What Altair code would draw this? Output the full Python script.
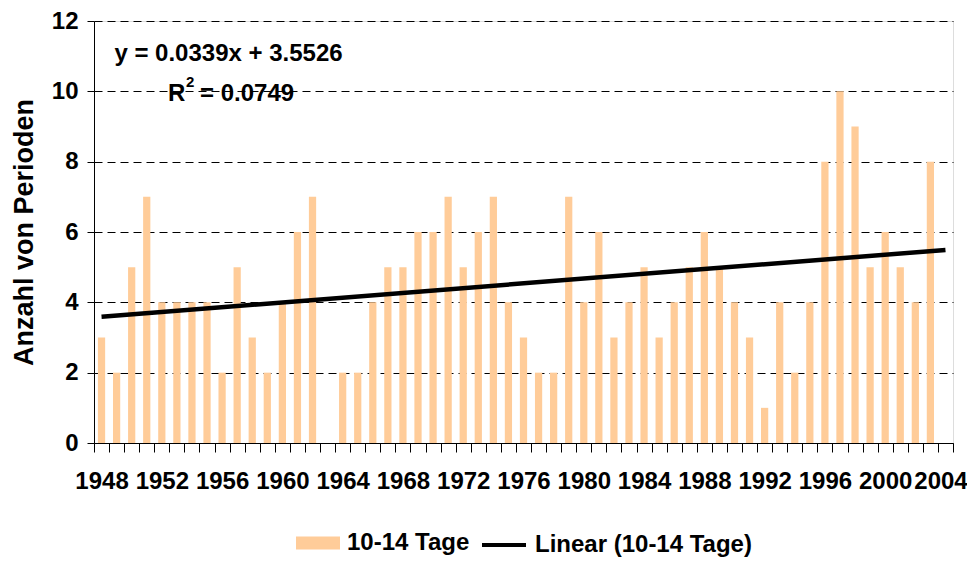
import altair as alt
import pandas as pd

# ---- data ----
years = list(range(1948, 2004))
counts = [3, 2, 5, 7, 4, 4, 4, 4, 2, 5, 3, 2, 4, 6, 7,
          0,
          2, 2, 4,
          5, 5, 6, 6, 7, 5, 6, 7, 4, 3, 2, 2, 7, 4, 6, 3, 4, 5, 3,
          4, 5, 6, 5, 4, 3, 1, 4, 2, 4, 8, 10, 9, 5, 6, 5, 4, 8]
axis_years = list(range(1948, 2005))
trend_years = [1948, 2004]
trend_values = [3.59, 5.49]
y_ticks = [0, 2, 4, 6, 8, 10, 12]
series_bar = "10-14 Tage"
series_line = "Linear (10-14 Tage)"
eq_text = "y = 0.0339x + 3.5526"
r2_base = "R"
r2_sup = "2"
r2_rest = "= 0.0749"
y_title = "Anzahl von Perioden"

FONT = "Liberation Sans"
BAR_COLOR = "#FFCC99"

bars_df = pd.DataFrame({"year": years, "count": counts, "series": series_bar})
trend_df = pd.DataFrame({"year": trend_years, "value": trend_values, "series": series_line})

xscale = alt.Scale(domain=axis_years, paddingInner=0, paddingOuter=0)
yscale = alt.Scale(domain=[0, 12], nice=False)

xaxis = alt.Axis(
    title=None,
    labelExpr="datum.value % 4 == 0 ? datum.label : ''",
    tickBand="extent", tickSize=9, tickColor="black", tickWidth=1,
    domainColor="black", domainWidth=1,
    labelFont=FONT, labelFontSize=24, labelFontWeight="bold", labelColor="black",
    labelPadding=17, labelOverlap=False, labelAngle=0, grid=False,
    labelOffset={"condition": {"test": "datum.value == 2004", "value": -5}, "value": 0},
)
yaxis = alt.Axis(
    values=y_ticks, title=y_title,
    titleFont=FONT, titleFontSize=27, titleFontWeight="bold", titleColor="black",
    titlePadding=13,
    labelFont=FONT, labelFontSize=24, labelFontWeight="bold", labelColor="black",
    labelPadding=9, tickSize=7, tickColor="black", domainColor="black",
    grid=True, gridDash=[8, 5], gridColor="black", gridWidth=1, gridOpacity=1,
)

legend_common = dict(
    orient="none", direction="horizontal", padding=0,
    labelFont=FONT, labelFontSize=24, labelFontWeight="bold", labelColor="black",
    labelOffset=7, symbolSize=1936, labelLimit=400,
)

bars = alt.Chart(bars_df).mark_bar(width=alt.RelativeBandSize(0.48)).encode(
    x=alt.X("year:O", scale=xscale, axis=xaxis),
    y=alt.Y("count:Q", scale=yscale, axis=yaxis),
    fill=alt.Fill("series:N", title=None,
                  scale=alt.Scale(domain=[series_bar], range=[BAR_COLOR]),
                  legend=alt.Legend(legendX=202, legendY=500,
                                    symbolType="M-1,-0.3H1V0.3H-1Z",
                                    symbolStrokeWidth=0, symbolOpacity=1,
                                    **legend_common)),
)

trend = alt.Chart(trend_df).mark_line(strokeWidth=4.5).encode(
    x=alt.X("year:O", scale=xscale),
    y=alt.Y("value:Q", scale=yscale),
    stroke=alt.Stroke("series:N", title=None,
                      scale=alt.Scale(domain=[series_line], range=["black"]),
                      legend=alt.Legend(legendX=386, legendY=500,
                                        symbolType="stroke", symbolStrokeWidth=4,
                                        **legend_common)),
)

text_style = dict(font=FONT, fontWeight="bold", color="black", baseline="alphabetic")

eq = alt.Chart(pd.DataFrame({"t": [eq_text]})).mark_text(
    fontSize=24, align="center", **text_style
).encode(x=alt.value(134.5), y=alt.value(40), text="t:N")

r2a = alt.Chart(pd.DataFrame({"t": [r2_base]})).mark_text(
    fontSize=24, align="left", **text_style
).encode(x=alt.value(74), y=alt.value(80), text="t:N")

r2b = alt.Chart(pd.DataFrame({"t": [r2_sup]})).mark_text(
    fontSize=15, align="left", **text_style
).encode(x=alt.value(92), y=alt.value(66), text="t:N")

r2c = alt.Chart(pd.DataFrame({"t": [r2_rest]})).mark_text(
    fontSize=24, align="left", **text_style
).encode(x=alt.value(106), y=alt.value(80), text="t:N")

chart = alt.layer(bars, trend, eq, r2a, r2b, r2c).properties(
    width=859, height=422,
    autosize=alt.AutoSizeParams(type="none"),
    padding={"left": 86, "top": 13, "right": 14, "bottom": 115},
).configure_view(stroke="black", strokeWidth=1).configure(background="white")

chart.save("out.html", embed_options={"renderer": "svg", "actions": False})
